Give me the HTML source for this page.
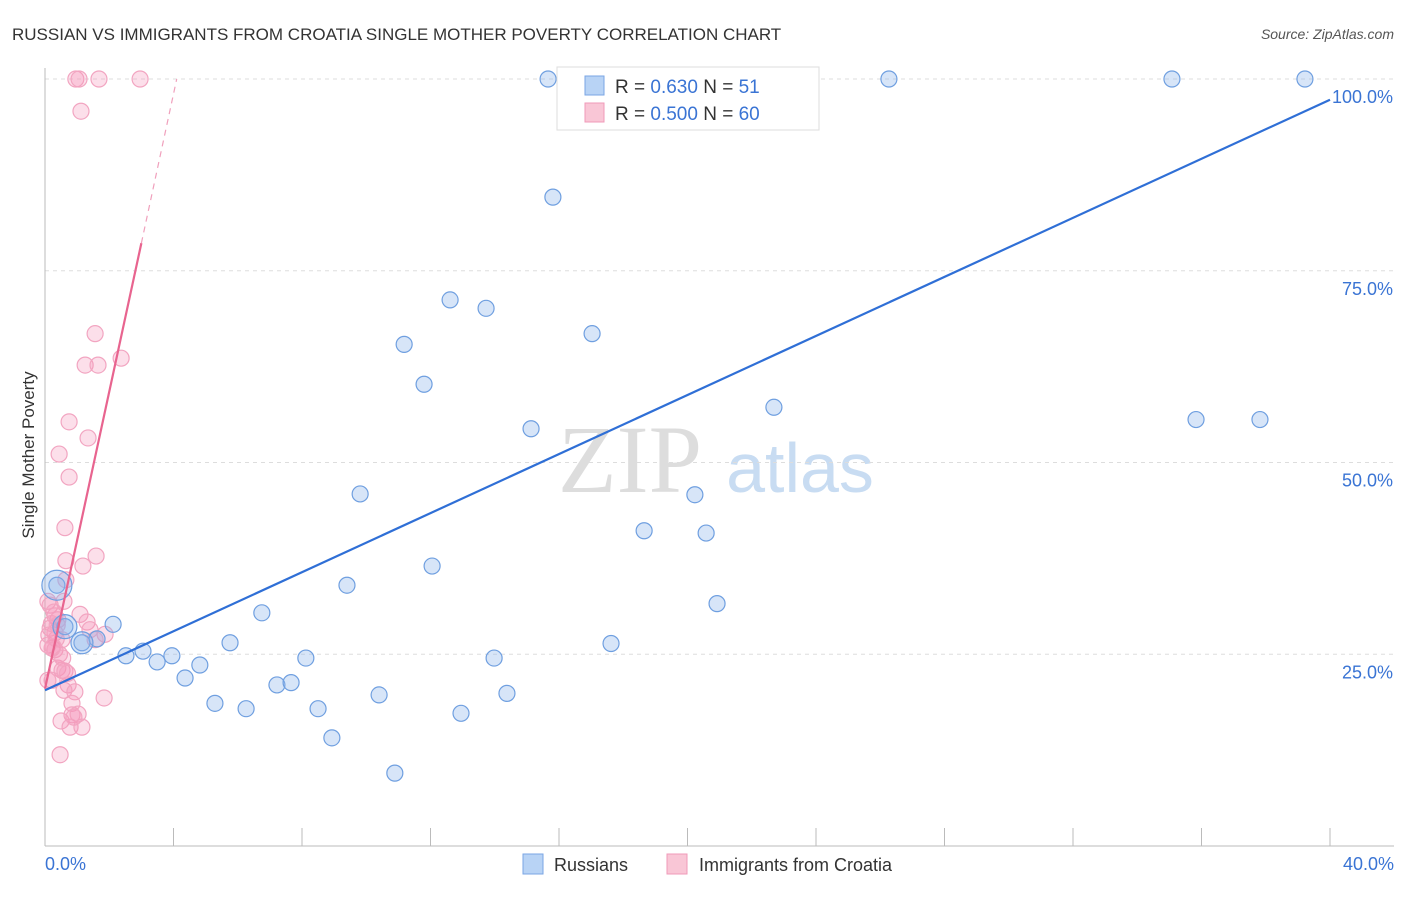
<!DOCTYPE html>
<html><head><meta charset="utf-8"><style>
body{margin:0;background:#fff;font-family:"Liberation Sans",sans-serif}
</style></head><body>
<svg id="c" width="1406" height="892" xmlns="http://www.w3.org/2000/svg">
<text x="12" y="40" font-size="17" fill="#333">RUSSIAN VS IMMIGRANTS FROM CROATIA SINGLE MOTHER POVERTY CORRELATION CHART</text>
<text x="1394" y="39" font-size="14" fill="#555" font-style="italic" text-anchor="end">Source: ZipAtlas.com</text>
<text x="630" y="492" font-size="96" fill="#ddd" font-family="Liberation Serif" text-anchor="middle">ZIP</text>
<text x="800" y="492" font-size="70" fill="#c8dcf2" text-anchor="middle">atlas</text>
<g id="grid"></g><g id="axes"></g><g id="marks"></g>
<text x="34" y="455" font-size="17" fill="#333" transform="rotate(-90 34 455)" text-anchor="middle">Single Mother Poverty</text>
<g>
<rect x="557" y="67" width="262" height="63" fill="#fff" stroke="#ddd"/>
<rect x="585" y="76" width="19" height="19" fill="#b8d3f5" stroke="#7aa6e4"/>
<text x="615" y="93" font-size="19" fill="#333">R = <tspan fill="#3a74d4">0.630</tspan>    N = <tspan fill="#3a74d4">51</tspan></text>
<rect x="585" y="103" width="19" height="19" fill="#f9c6d6" stroke="#f09ab8"/>
<text x="615" y="120" font-size="19" fill="#333">R = <tspan fill="#3a74d4">0.500</tspan>    N = <tspan fill="#3a74d4">60</tspan></text>
</g>
<g>
<rect x="523" y="854" width="20" height="20" fill="#b8d3f5" stroke="#7aa6e4"/>
<text x="554" y="871" font-size="18" fill="#333">Russians</text>
<rect x="667" y="854" width="20" height="20" fill="#f9c6d6" stroke="#f09ab8"/>
<text x="699" y="871" font-size="18" fill="#333">Immigrants from Croatia</text>
</g>
</svg>
<script>
const xTicks=[0,4,8,12,16,20,24,28,32,36,40];
const yTicks=[25,50,75,100];
const blueX=[15.66,16.25,17.31,18.02,22.44,26.27,35.08,39.22,15.81,12.61,13.73,11.18,17.03,11.80,22.69,35.83,37.82,15.13,9.81,20.23,18.65,20.58,12.05,9.40,20.92,6.75,17.62,5.76,2.12,1.15,1.62,2.52,3.05,3.49,3.95,4.36,4.82,5.29,6.26,7.22,7.66,8.12,8.50,8.93,10.40,10.89,12.95,13.98,14.38,0.62,0.37];
const blueY=[100,100,100,100,100,100,100,100,84.6,71.2,70.1,65.4,66.8,60.2,57.2,55.6,55.6,54.4,45.9,45.8,41.1,40.8,36.5,34.0,31.6,30.4,26.4,26.5,28.9,26.5,27.0,24.8,25.4,24.0,24.8,21.9,23.6,18.6,17.9,21.0,21.3,24.5,17.9,14.1,19.7,9.5,17.3,24.5,19.9,28.6,34.0];
const pinkX=[0.96,1.06,1.68,2.96,1.12,1.56,1.25,1.65,2.37,0.75,1.34,0.44,0.75,0.62,1.59,0.65,1.18,0.65,0.09,0.16,0.59,1.09,0.31,0.40,1.31,0.16,0.31,1.40,1.87,0.53,0.09,0.22,0.31,1.56,0.40,0.53,0.62,0.22,0.09,0.72,0.59,0.93,0.84,1.84,0.84,1.03,0.50,0.78,1.15,0.47,0.20,0.35,0.45,0.70,0.28,0.12,0.90,0.55,0.38,0.25];
const pinkY=[100,100,100,100,95.8,66.8,62.7,62.7,63.6,55.3,53.2,51.1,48.1,41.5,37.8,37.2,36.5,34.7,31.9,31.4,31.9,30.2,30.0,29.5,29.2,28.4,27.8,28.2,27.6,26.9,26.2,25.8,25.6,26.9,23.2,22.9,22.8,21.6,21.6,21.0,20.3,20.1,18.6,19.3,17.1,17.2,16.3,15.5,15.5,11.9,29.0,27.0,25.0,22.5,30.5,27.5,16.8,24.5,28.8,26.0];
const bigBlue=[[0.37,34.0,15],[1.15,26.5,11],[0.62,28.6,12]];
const blueTrend=[[0,20.3],[40,97.3]];
const pinkTrend=[[0,20.5],[3.0,78.6],[4.1,100]];
const X=v=>45+v*32.125, Y=v=>846-v*7.67;
const NS='http://www.w3.org/2000/svg';
function mk(p,t,a){const e=document.createElementNS(NS,t);for(const k in a)e.setAttribute(k,a[k]);document.getElementById(p).appendChild(e);return e;}
yTicks.forEach(t=>{
 const l=mk('grid','line',{x1:45,x2:1394,y1:Y(t),y2:Y(t),stroke:'#ddd','stroke-dasharray':'4,4'});
 
 
 const tx=mk('axes','text',{x:1393,y:Y(t)+24,'font-size':18,fill:'#3a74d4','text-anchor':'end'});tx.textContent=t.toFixed(1)+'%';
 
 
});
const ax=mk('axes','line',{x1:45,x2:1394,y1:846,y2:846,stroke:'#bbb'});


const ay=mk('axes','line',{x1:45,x2:45,y1:68,y2:846,stroke:'#bbb'});


xTicks.forEach(t=>{
 const l=mk('axes','line',{x1:X(t),x2:X(t),y1:828,y2:846,stroke:'#bbb'});
 
 
});
[[0,'start',45],[40,'end',1394]].forEach(([t,a,x])=>{
 const tx=mk('axes','text',{x:x,y:870,'font-size':18,fill:'#3a74d4','text-anchor':a});tx.textContent=t.toFixed(1)+'%';
 
 
});
pinkX.forEach((v,i)=>{
 const c=mk('marks','circle',{cx:X(v),cy:Y(pinkY[i]),r:8,fill:'rgba(245,150,185,0.3)',stroke:'#f2a5c1','stroke-width':1.2});
 
 
});
blueX.forEach((v,i)=>{
 const c=mk('marks','circle',{cx:X(v),cy:Y(blueY[i]),r:8,fill:'rgba(140,180,235,0.35)',stroke:'#6f9fe0','stroke-width':1.2});
 
 
});
bigBlue.forEach(b=>{
 const c=mk('marks','circle',{cx:X(b[0]),cy:Y(b[1]),r:b[2],fill:'rgba(140,180,235,0.35)',stroke:'#6f9fe0','stroke-width':1.2});
 
 
});
const bl=mk('marks','line',{x1:X(blueTrend[0][0]),y1:Y(blueTrend[0][1]),x2:X(blueTrend[1][0]),y2:Y(blueTrend[1][1]),stroke:'#2f6fd6','stroke-width':2.2});


const pl=mk('marks','line',{x1:X(pinkTrend[0][0]),y1:Y(pinkTrend[0][1]),x2:X(pinkTrend[1][0]),y2:Y(pinkTrend[1][1]),stroke:'#e8648f','stroke-width':2.2});


const pd=mk('marks','line',{x1:X(pinkTrend[1][0]),y1:Y(pinkTrend[1][1]),x2:X(pinkTrend[2][0]),y2:Y(pinkTrend[2][1]),stroke:'#f0a0bc','stroke-width':1.2,'stroke-dasharray':'6,5'});


</script>
</body></html>
